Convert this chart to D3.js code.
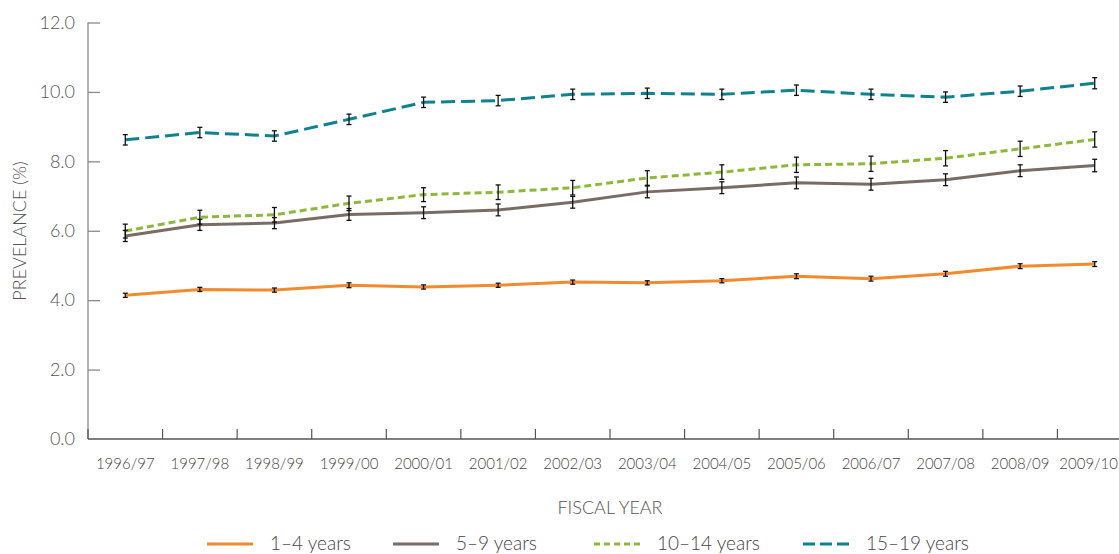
<!DOCTYPE html>
<html>
<head>
<meta charset="utf-8">
<script src="https://cdn.jsdelivr.net/npm/d3@7/dist/d3.min.js"></script>
<style>
  html, body { margin: 0; padding: 0; background: #fff; }
  svg { display: block; font-family: Lato, "Open Sans", sans-serif; font-weight: 300; }
</style>
</head>
<body>
<svg id="chart" width="1119" height="554"></svg>
<script>
// Fiscal years on the x axis
const years = ["1996/97","1997/98","1998/99","1999/00","2000/01","2001/02","2002/03",
               "2003/04","2004/05","2005/06","2006/07","2007/08","2008/09","2009/10"];

// Prevalence (%) by age group
const age1to4   = [4.14, 4.31, 4.29, 4.43, 4.38, 4.43, 4.52, 4.50, 4.56, 4.69, 4.62, 4.76, 4.98, 5.04];
const age5to9   = [5.85, 6.17, 6.22, 6.47, 6.52, 6.60, 6.82, 7.12, 7.24, 7.38, 7.34, 7.47, 7.73, 7.88];
const age10to14 = [5.99, 6.39, 6.46, 6.79, 7.04, 7.11, 7.24, 7.52, 7.69, 7.90, 7.93, 8.09, 8.36, 8.63];
const age15to19 = [8.62, 8.83, 8.73, 9.21, 9.70, 9.75, 9.93, 9.96, 9.93, 10.05, 9.93, 9.85, 10.02, 10.25];

// 95% confidence half-widths
const err1to4   = [0.06, 0.06, 0.06, 0.07, 0.06, 0.06, 0.06, 0.06, 0.06, 0.07, 0.07, 0.07, 0.07, 0.07];
const err5to9   = [0.16, 0.16, 0.16, 0.17, 0.17, 0.17, 0.17, 0.17, 0.17, 0.17, 0.17, 0.17, 0.17, 0.18];
const err10to14 = [0.20, 0.20, 0.21, 0.21, 0.20, 0.21, 0.21, 0.21, 0.21, 0.22, 0.22, 0.22, 0.22, 0.22];
const err15to19 = [0.15, 0.15, 0.15, 0.15, 0.15, 0.15, 0.15, 0.15, 0.15, 0.15, 0.15, 0.15, 0.15, 0.16];

const yTicks = [0, 2, 4, 6, 8, 10, 12];

const seriesNames = ["1–4 years", "5–9 years", "10–14 years", "15–19 years"];
const series = [
  { name: seriesNames[0], values: age1to4,   errors: err1to4,   color: "#f28a2e", dash: null },
  { name: seriesNames[1], values: age5to9,   errors: err5to9,   color: "#786c64", dash: null },
  { name: seriesNames[2], values: age10to14, errors: err10to14, color: "#8db83c", dash: "7,4" },
  { name: seriesNames[3], values: age15to19, errors: err15to19, color: "#0e8290", dash: "14,6" }
];

const svg = d3.select("#chart");
const W = 1119;
const plotLeft = 88, plotRight = 1132, plotTop = 22.5, plotBottom = 439;

const x = d3.scaleBand().domain(years).range([plotLeft, plotRight]).paddingInner(0).paddingOuter(0);
const y = d3.scaleLinear().domain([0, 12]).range([plotBottom, plotTop]);
const cx = d => x(d) + x.bandwidth() / 2;

// Y axis
const yAxis = svg.append("g").attr("transform", `translate(${plotLeft},0)`)
  .call(d3.axisRight(y).tickValues(yTicks).tickSize(12).tickFormat(""));
yAxis.select(".domain").attr("stroke", "#8a8a8a").attr("stroke-width", 1.3)
  .attr("d", `M0,${plotTop}V${plotBottom}`);
yAxis.selectAll(".tick line").attr("stroke", "#8a8a8a").attr("stroke-width", 1.3);
yAxis.selectAll(".tick").filter(d => d === 0).select("line").remove();

svg.append("g").selectAll("text").data(yTicks).join("text")
  .attr("x", 75).attr("y", d => y(d)).attr("dy", "0.35em")
  .attr("text-anchor", "end").attr("font-size", 18).attr("fill", "#555")
  .text(d => d3.format(".1f")(d));

// X axis with ticks at band boundaries
const xg = svg.append("g");
xg.append("line").attr("x1", plotLeft).attr("x2", W).attr("y1", plotBottom).attr("y2", plotBottom)
  .attr("stroke", "#555").attr("stroke-width", 1.3);
xg.selectAll("line.tk").data(years).join("line").attr("class", "tk")
  .attr("x1", d => x(d)).attr("x2", d => x(d))
  .attr("y1", plotBottom).attr("y2", plotBottom - 10)
  .attr("stroke", "#555").attr("stroke-width", 1.2);
xg.selectAll("text").data(years).join("text")
  .attr("x", d => cx(d)).attr("y", 469)
  .attr("text-anchor", "middle").attr("font-size", 15).attr("fill", "#444")
  .text(d => d)
  .each(function () {
    // keep the last label inside the page edge
    const b = this.getBBox();
    if (b.x + b.width > W - 1) {
      d3.select(this).attr("x", W - 1).attr("text-anchor", "end");
    }
  });

// Axis titles
svg.append("text").attr("x", 610).attr("y", 514).attr("text-anchor", "middle")
  .attr("font-size", 18).attr("fill", "#555").text("FISCAL YEAR");
svg.append("text").attr("transform", "translate(26,231) rotate(-90)")
  .attr("text-anchor", "middle").attr("font-size", 18).attr("fill", "#555")
  .text("PREVELANCE (%)");

// Lines
const line = d3.line().x((v, i) => cx(years[i])).y(v => y(v));
series.forEach(s => {
  svg.append("path").datum(s.values)
    .attr("d", line).attr("fill", "none")
    .attr("stroke", s.color).attr("stroke-width", 3)
    .attr("stroke-dasharray", s.dash);
});

// Error bars
series.forEach(s => {
  const g = svg.append("g").attr("stroke", "#111").attr("stroke-width", 1.3);
  s.values.forEach((v, i) => {
    const px = cx(years[i]);
    const y1 = y(v + s.errors[i]), y2 = y(v - s.errors[i]);
    g.append("line").attr("x1", px).attr("x2", px).attr("y1", y1).attr("y2", y2);
    g.append("line").attr("x1", px - 2.5).attr("x2", px + 2.5).attr("y1", y1).attr("y2", y1);
    g.append("line").attr("x1", px - 2.5).attr("x2", px + 2.5).attr("y1", y2).attr("y2", y2);
  });
});

// Legend
const legendX = [207, 393, 594, 803];
const legend = svg.append("g");
series.forEach((s, i) => {
  legend.append("line").attr("x1", legendX[i]).attr("x2", legendX[i] + 46)
    .attr("y1", 544).attr("y2", 544)
    .attr("stroke", s.color).attr("stroke-width", 3)
    .attr("stroke-dasharray", s.dash ? (i === 2 ? "6,4" : "12,5") : null);
  legend.append("text").attr("x", legendX[i] + 63).attr("y", 550)
    .attr("font-size", 19).attr("fill", "#444").text(s.name);
});
</script>
</body>
</html>
